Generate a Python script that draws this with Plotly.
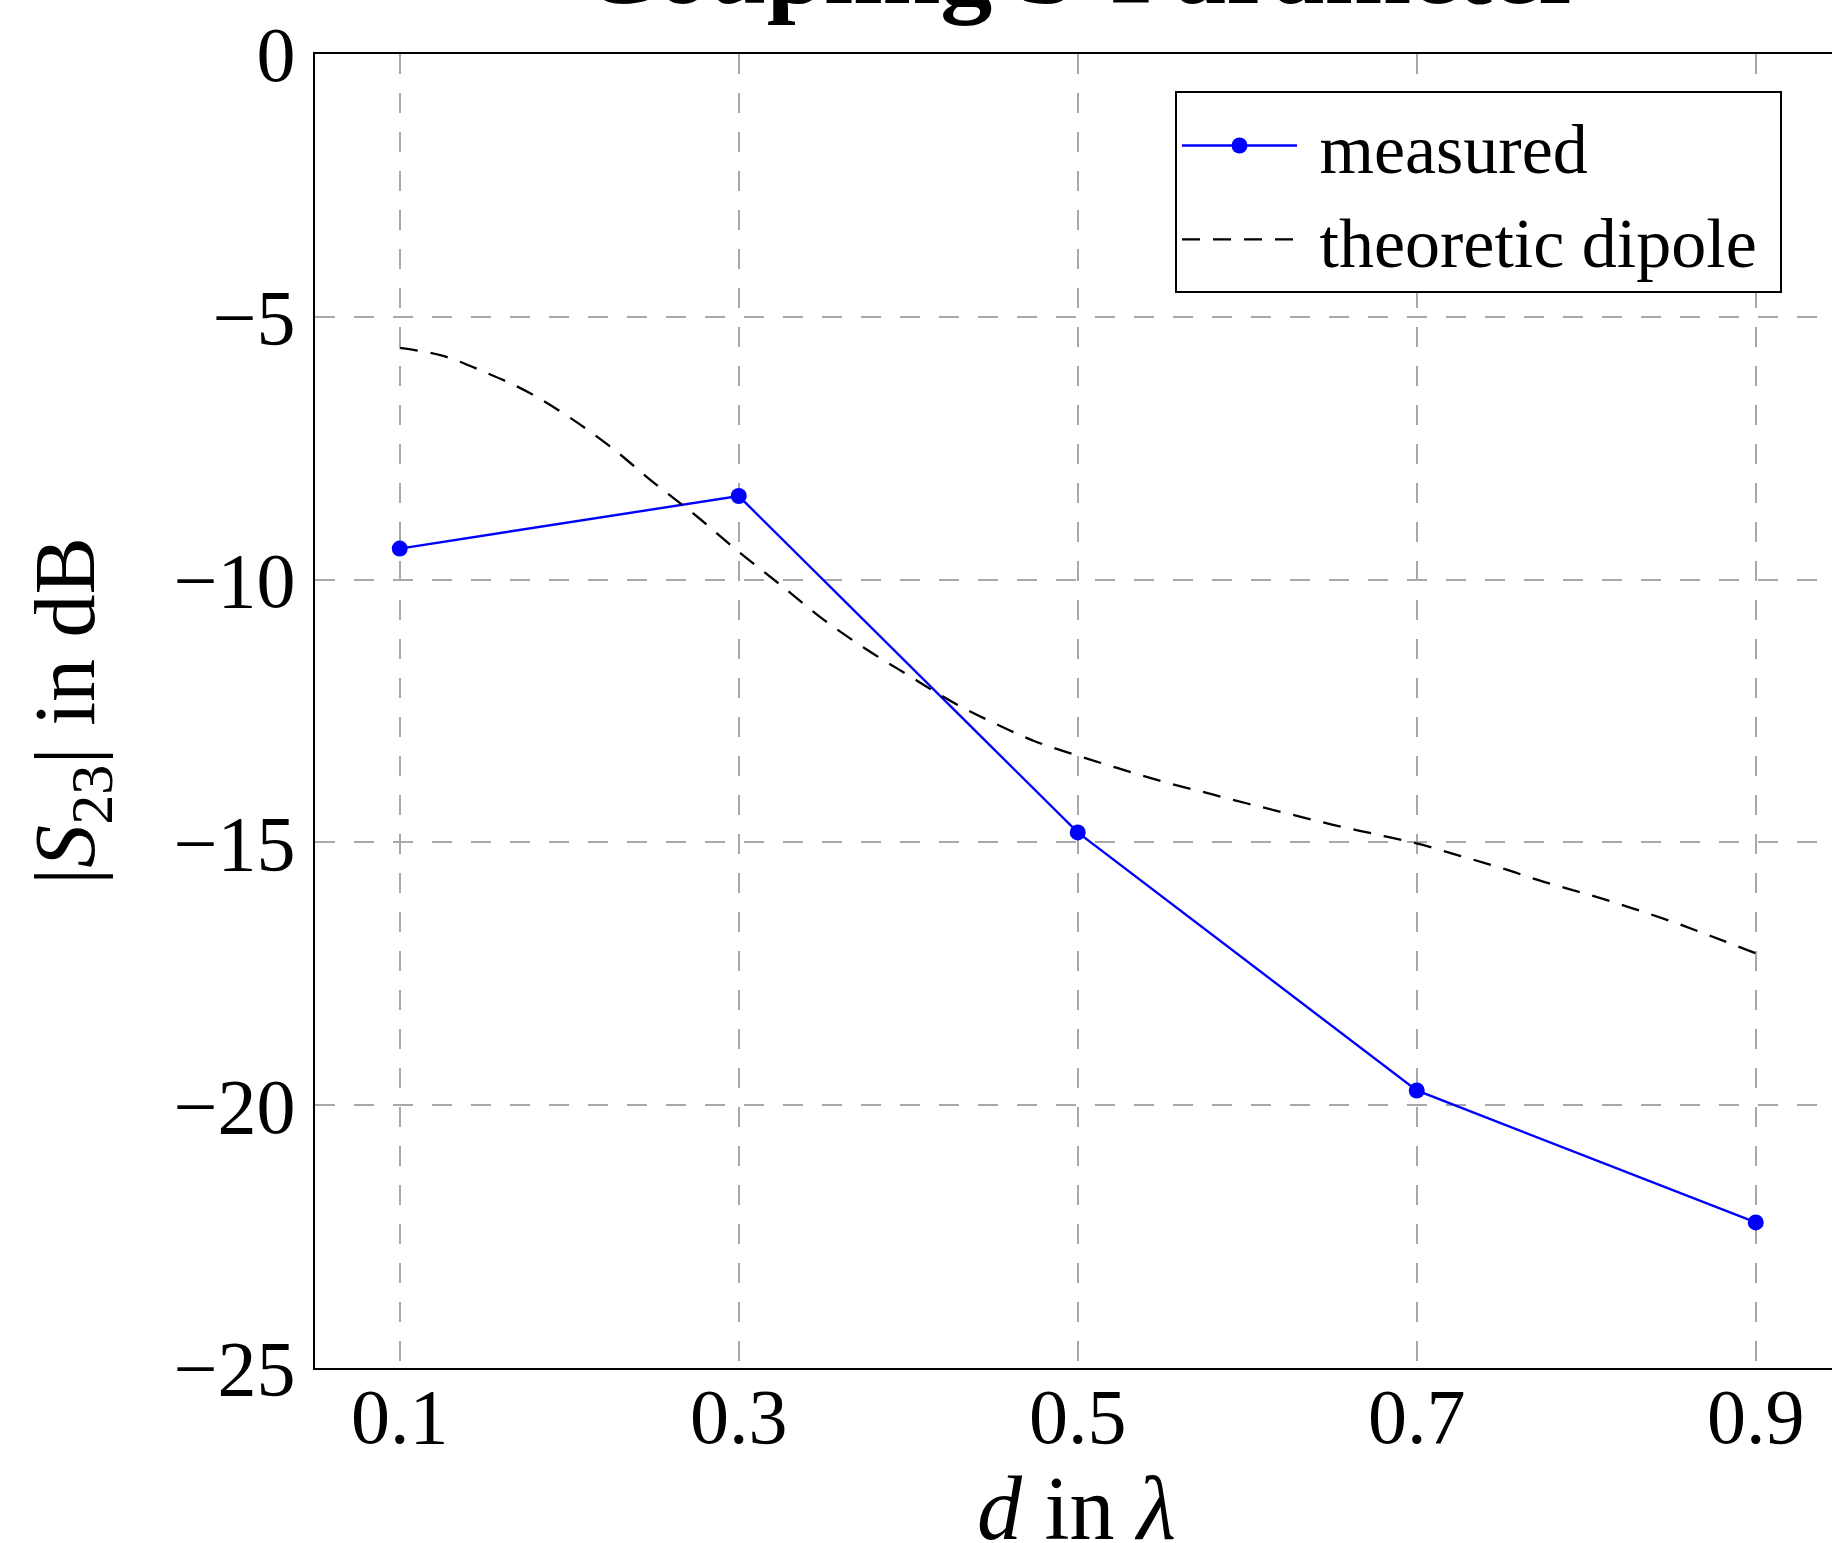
import plotly.graph_objects as go

# ---- data ----
d_measured = [0.1, 0.3, 0.5, 0.7, 0.9]
s23_measured = [-9.41, -8.41, -14.81, -19.72, -22.23]

d_theory = [0.100, 0.125, 0.150, 0.175, 0.200, 0.225, 0.250, 0.275, 0.300,
            0.325, 0.350, 0.375, 0.400, 0.425, 0.450, 0.475, 0.500, 0.525,
            0.550, 0.575, 0.600, 0.625, 0.650, 0.675, 0.700, 0.725, 0.750,
            0.775, 0.800, 0.825, 0.850, 0.875, 0.900]
s23_theory = [-5.59, -5.74, -6.05, -6.42, -6.91, -7.49, -8.16, -8.79, -9.47,
              -10.11, -10.76, -11.32, -11.82, -12.31, -12.72, -13.08, -13.35, -13.60,
              -13.84, -14.05, -14.26, -14.46, -14.66, -14.84, -15.02, -15.25, -15.49,
              -15.75, -15.98, -16.23, -16.50, -16.80, -17.11]

x_ticks = [0.1, 0.3, 0.5, 0.7, 0.9]
x_ticklabels = ["0.1", "0.3", "0.5", "0.7", "0.9"]
y_ticks = [0, -5, -10, -15, -20, -25]
y_ticklabels = ["0", "\u22125", "\u221210", "\u221215", "\u221220", "\u221225"]

FONT = "Liberation Serif"
W, H = 1832, 1543
ML, MT, MB, MR = 315, 53.5, 174.5, 0
PX_PER_UNIT = 1695.0
PLOT_H = H - MT - MB

fig = go.Figure()
fig.add_trace(go.Scatter(
    x=d_measured, y=s23_measured, mode="lines+markers", name="\u00a0measured",
    line=dict(color="#0000ff", width=2.4),
    marker=dict(color="#0000ff", size=16, symbol="circle"),
))
fig.add_trace(go.Scatter(
    x=d_theory, y=s23_theory, mode="lines", name="\u00a0theoretic dipole\u00a0",
    line=dict(color="black", width=2.3, dash="18px,13px", shape="spline"),
))

grid = dict(showgrid=True, gridcolor="#a8a8a8", gridwidth=1.7, griddash="20px,19px")

fig.update_layout(
    width=W, height=H,
    margin=dict(l=ML, r=MR, t=MT, b=MB, autoexpand=False),
    paper_bgcolor="white", plot_bgcolor="white",
    font=dict(family=FONT, color="black", size=78),
    title=dict(
        text="<b>Coupling S-Parameter</b>",
        font=dict(family=FONT, size=104, color="black"),
        xref="container", x=1083 / W, xanchor="center",
        yref="paper", y=1, yanchor="bottom", pad=dict(b=51),
    ),
    xaxis=dict(
        range=[0.05, 0.05 + (W - ML) / PX_PER_UNIT],
        tickvals=x_ticks, ticktext=x_ticklabels,
        showline=True, linecolor="black", linewidth=2, mirror=True,
        ticks="", ticklabelstandoff=-21,
        tickfont=dict(size=78),
        zeroline=False,
        **grid,
    ),
    yaxis=dict(
        range=[-25, 0],
        tickvals=y_ticks, ticktext=y_ticklabels,
        showline=True, linecolor="black", linewidth=2, mirror=False,
        ticks="", ticklabelstandoff=2,
        tickfont=dict(size=78),
        zeroline=False,
        title=dict(text="|<i>S</i><sub>23</sub>| in dB", font=dict(size=86), standoff=50),
        **grid,
    ),
    legend=dict(
        x=(1175 - ML) / (W - ML), y=1 - (91 - MT) / PLOT_H,
        xanchor="left", yanchor="top",
        bgcolor="white", bordercolor="black", borderwidth=2,
        font=dict(family=FONT, size=70, color="black"),
        itemwidth=115,
    ),
    showlegend=True,
    annotations=[dict(
        text="<i>d</i> in <i>\u03bb</i>",
        xref="paper", yref="paper",
        x=(1076.5 - ML) / (W - ML), y=-(1561 - (H - MB)) / PLOT_H,
        xanchor="center", yanchor="bottom", showarrow=False,
        font=dict(family=FONT, size=90, color="black"),
    )],
)

fig.write_html(
    "out.html",
    config={"displayModeBar": False},
    post_script="document.body.style.margin='0px';document.body.style.overflow='hidden';",
)
